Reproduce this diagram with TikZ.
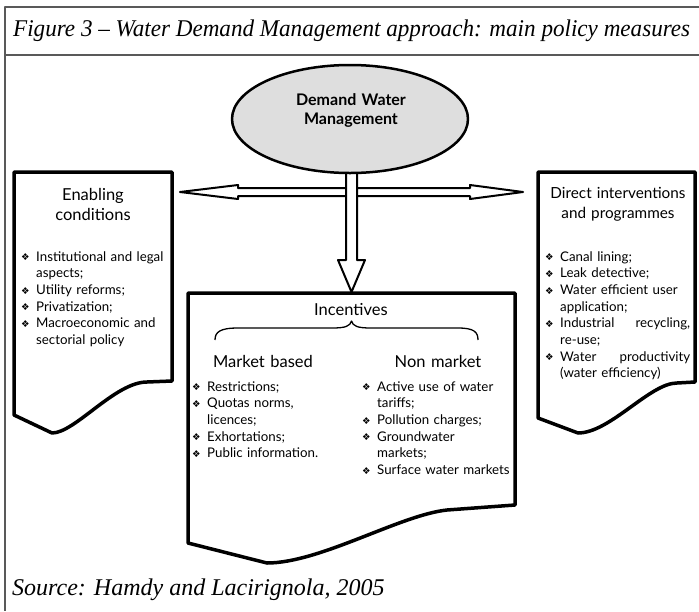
\documentclass[tikz,border=0pt]{standalone}
\usepackage{fontspec}
\usetikzlibrary{shapes.geometric}
\setmainfont{Lato}
\newfontfamily\capfont{Liberation Serif}
\newfontfamily\symfont{DejaVu Sans}
\newcommand\bul{\makebox[15pt][l]{\raisebox{0.3pt}{\symfont\fontsize{9.5}{9.5}\selectfont ❖}}}
\newcommand\ind{\hspace*{15pt}}
\newcommand\captitle{Figure 3 – Water Demand Management approach: main policy measures}
\newlength\ttw
\begin{document}
\settowidth\ttw{\capfont\itshape\fontsize{24}{28}\selectfont\captitle}
\begin{tikzpicture}[x=1pt,y=-1pt,line join=round,
  frameline/.style={draw=black!65,line width=1.5pt},
  boxline/.style={draw=black,line width=3.5pt,fill=white},
  arrowline/.style={draw=black,line width=2pt,fill=white},
  captext/.style={inner sep=0pt,anchor=base west,font=\capfont\itshape\fontsize{24}{28}\selectfont},
  headtext/.style={inner sep=0pt,anchor=base,align=center,text width=200pt,font=\fontsize{16.5}{20}\selectfont},
  listtext/.style={inner sep=0pt,anchor=base west,align=left,text width=160pt,font=\fontsize{13.3}{16.7}\selectfont}]
\useasboundingbox (0,0) rectangle (699,611);
\fill[white] (0,0) rectangle (699,611);
\pgfmathsetmacro\tsc{677/\ttw}
% frame
\draw[frameline] (699,7) -- (5,7) -- (5,611);
\draw[frameline] (5,55) -- (699,55);
\node[captext,xscale=\tsc] (title) at (13,36) {\captitle};
\node[captext] (source) at (12,595) {Source: Hamdy and Lacirignola, 2005};
% boxes
\draw[boxline] (14,172) -- (172,172) -- (172,381) -- (147,382) .. controls (115,382) and (75,433) .. (52,433) -- (14,415) -- cycle;
\draw[boxline] (538,172) -- (695,172) -- (695,382) -- (677,383) .. controls (650,383) and (610,433) .. (578,433) -- (538,418) -- cycle;
\draw[boxline] (188,293) -- (515,293) -- (515,505) -- (447,510) .. controls (400,515) and (320,563) .. (267,563) -- (188,543) -- cycle;
\coordinate (lefttip) at (180,192);
\coordinate (righttip) at (523,192);
\coordinate (downtip) at (351.5,292);
% arrows
\draw[arrowline] (238,188) -- (238,185) -- (lefttip) -- (238,199) -- (238,196) -- (470,196) -- (470,199) -- (righttip) -- (470,185) -- (470,188) -- cycle;
\filldraw[arrowline] (346,150) -- (346,260) -- (338,260) -- (downtip) -- (365,260) -- (357,260) -- (357,150);
% ellipse
\node[ellipse,draw=black,line width=2.5pt,fill=black!13,minimum width=236pt,minimum height=108pt,inner sep=0pt] (dwm) at (350,119) {};
\node[inner sep=0pt,anchor=base,align=center,text width=200pt,font=\bfseries\fontsize{16}{19.5}\selectfont] (dwmtext) at (351,105) {Demand Water\\Management};
% headings
\node[headtext] (enab) at (93,200) {Enabling\\conditions};
\node[headtext,font=\fontsize{15.3}{20}\selectfont] (direct) at (618,198) {Direct interventions\\and programmes};
\node[headtext] (incent) at (351,315) {Incentives};
\node[headtext] (market) at (263,367) {Market based};
\node[headtext] (nonmarket) at (438,367) {Non market};
% brace
\draw[line width=1.3pt] (215,340) .. controls (215,332) and (220,328) .. (238,328) -- (332,328) .. controls (346,328) and (350,326) .. (351.5,321) .. controls (353,326) and (357,328) .. (371,328) -- (458,328) .. controls (474,328) and (478,332) .. (478,340);
% lists
\node[listtext] (leftlist) at (21,261) {\bul Institutional and legal\\
\ind aspects;\\
\bul Utility reforms;\\
\bul Privatization;\\
\bul Macroeconomic and\\
\ind sectorial policy};
\node[listtext] (rightlist) at (545,261) {\bul Canal lining;\\
\bul Leak detective;\\
\bul Water efficient user\\
\ind application;\\
\bul \makebox[130pt][l]{Industrial\hfill recycling,}\\
\ind re-use;\\
\bul \makebox[130pt][l]{Water\hfill productivity}\\
\ind (water efficiency)};
\node[listtext] (mlist) at (192,391) {\bul Restrictions;\\
\bul Quotas norms,\\
\ind licences;\\
\bul Exhortations;\\
\bul Public information.};
\node[listtext] (nlist) at (362,391) {\bul Active use of water\\
\ind tariffs;\\
\bul Pollution charges;\\
\bul Groundwater\\
\ind markets;\\
\bul Surface water markets};
\end{tikzpicture}
\end{document}
